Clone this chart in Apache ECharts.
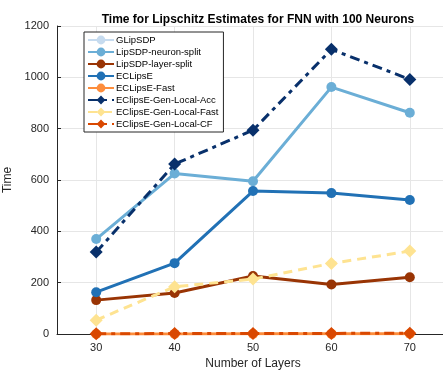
<!DOCTYPE html>
<html>
<head>
<meta charset="utf-8">
<script src="https://cdn.jsdelivr.net/npm/echarts@6/dist/echarts.min.js"></script>
<style>
  html, body { margin: 0; padding: 0; background: #fff; }
  #chart { width: 443px; height: 370px; }
</style>
</head>
<body>
<div id="chart"></div>
<script>
// Network depth (number of layers) on the x axis
const layers = [30, 40, 50, 60, 70];
const yTicks = [0, 200, 400, 600, 800, 1000, 1200];

// Computation time per method
const gLipSDP = [];
const lipSDPNeuronSplit = [370, 625, 595, 962, 862];
const lipSDPLayerSplit = [132, 160, 226, 193, 221];
const eclipsE = [163, 276, 557, 549, 522];
const eclipsEFast = [0.3, 0.4, 0.5, 0.6, 0.7];
const genLocalAcc = [319, 662, 794, 1109, 992];
const genLocalFast = [54, 184, 214, 275, 323];
const genLocalCF = [1.2, 1.6, 2.0, 2.4, 2.8];

const seriesDefs = [
  { name: 'GLipSDP', data: gLipSDP, color: '#c6dbef', symbol: 'circle', dash: 'solid' },
  { name: 'LipSDP-neuron-split', data: lipSDPNeuronSplit, color: '#6baed6', symbol: 'circle', dash: 'solid' },
  { name: 'LipSDP-layer-split', data: lipSDPLayerSplit, color: '#993404', symbol: 'circle', dash: 'solid' },
  { name: 'ECLipsE', data: eclipsE, color: '#2171b5', symbol: 'circle', dash: 'solid' },
  { name: 'ECLipsE-Fast', data: eclipsEFast, color: '#fd8d3c', symbol: 'circle', dash: 'solid' },
  { name: 'EClipsE-Gen-Local-Acc', data: genLocalAcc, color: '#08306b', symbol: 'diamond', dash: [10, 5, 4, 5] },
  { name: 'EClipsE-Gen-Local-Fast', data: genLocalFast, color: '#fee391', symbol: 'diamond', dash: [9, 6] },
  { name: 'EClipsE-Gen-Local-CF', data: genLocalCF, color: '#d94801', symbol: 'diamond', dash: [10, 5, 4, 5] }
];

const font = '"Liberation Sans", Arial, Helvetica, sans-serif';
const ink = '#262626';

const chart = echarts.init(document.getElementById('chart'), null, { renderer: 'canvas' });

chart.setOption({
  animation: false,
  backgroundColor: '#fff',
  textStyle: { fontFamily: font },
  title: {
    text: 'Time for Lipschitz Estimates for FNN with 100 Neurons',
    left: 253, top: 9, textAlign: 'center',
    textStyle: { fontFamily: font, fontSize: 12, fontWeight: 'bold', color: '#000' }
  },
  grid: { left: 57, right: -6, top: 26, bottom: 36, containLabel: false, outerBoundsMode: 'none' },
  legend: {
    orient: 'vertical',
    left: 84, top: 32,
    padding: [3, 5, 3, 3],
    itemGap: 2,
    itemWidth: 26, itemHeight: 11,
    backgroundColor: '#fff',
    borderColor: '#262626', borderWidth: 1,
    textStyle: { fontFamily: font, fontSize: 9.5, color: '#000', padding: [0, 0, 0, -3] },
    data: seriesDefs.map(s => s.name)
  },
  xAxis: {
    type: 'value', min: 25, max: 75,
    name: 'Number of Layers', nameLocation: 'middle', nameGap: 22,
    nameTextStyle: { fontFamily: font, fontSize: 12, color: ink },
    axisLine: { show: true, lineStyle: { color: ink, width: 1 } },
    axisTick: { show: true, inside: true, length: 4, customValues: layers, lineStyle: { color: ink } },
    axisLabel: { customValues: layers, fontFamily: font, fontSize: 11, color: ink, margin: 8 },
    splitLine: { show: true, lineStyle: { color: '#e6e6e6', width: 1 } }
  },
  yAxis: {
    type: 'value', min: yTicks[0], max: yTicks[yTicks.length - 1], interval: 200,
    name: 'Time', nameLocation: 'middle', nameGap: 30, nameRotate: 90,
    nameTextStyle: { fontFamily: font, fontSize: 12, color: ink },
    axisLine: { show: true, lineStyle: { color: ink, width: 1 } },
    axisTick: { show: true, inside: true, length: 4, lineStyle: { color: ink } },
    axisLabel: { fontFamily: font, fontSize: 11, color: ink, margin: 8, formatter: v => String(v) },
    splitLine: { show: true, lineStyle: { color: '#e6e6e6', width: 1 } }
  },
  series: seriesDefs.map((s, i) => ({
    name: s.name,
    type: 'line',
    data: s.data.map((v, k) => [layers[k], v]),
    color: s.color,
    symbol: s.symbol,
    symbolSize: s.symbol === 'diamond' ? [13, 13] : 10,
    showSymbol: true,
    z: 2 + i,
    lineStyle: { color: s.color, width: 3, type: s.dash },
    itemStyle: { color: s.color, borderWidth: 0 },
    emphasis: { disabled: true }
  }))
});
</script>
</body>
</html>
